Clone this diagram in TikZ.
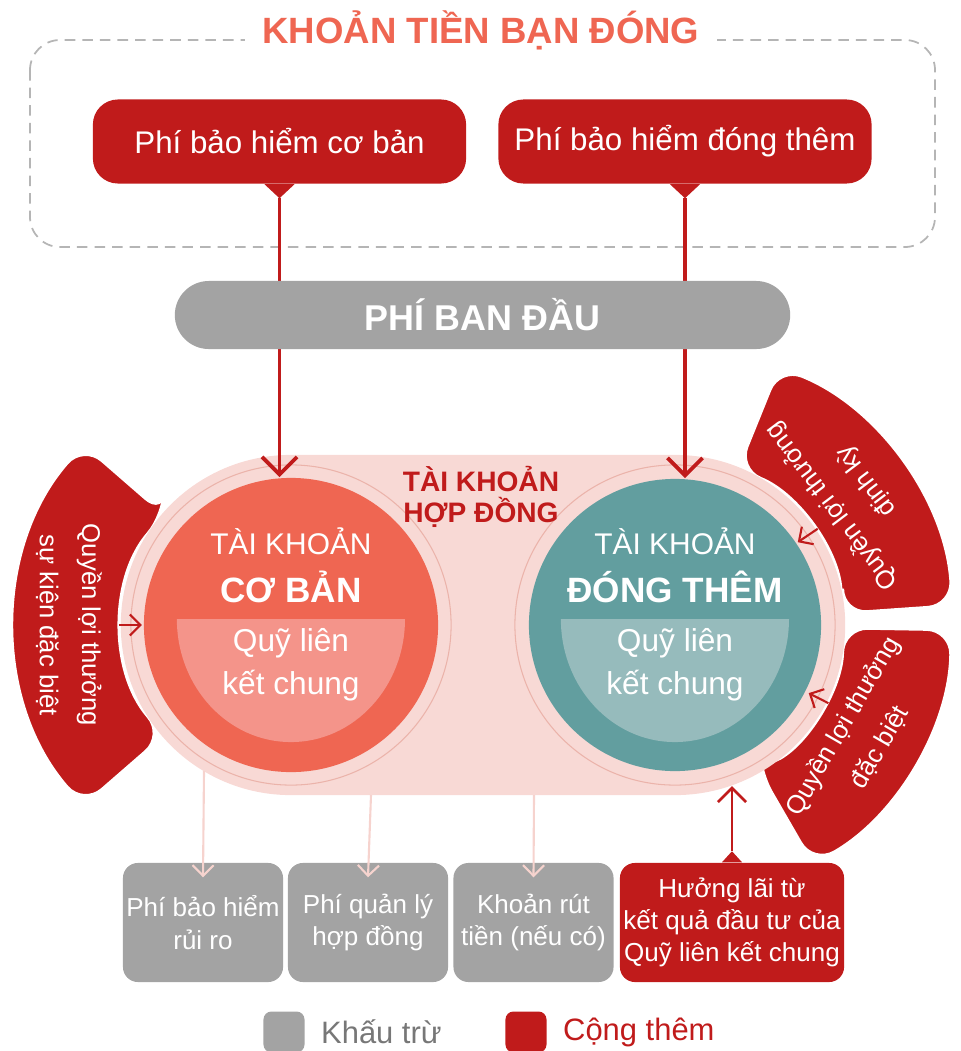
\documentclass[tikz,border=0pt]{standalone}
\usepackage{fontspec}
\setmainfont{Liberation Sans}
\usetikzlibrary{arrows.meta,calc,positioning}

\definecolor{ddred}{HTML}{C01B1B}
\definecolor{coral}{HTML}{EF6652}
\definecolor{corall}{HTML}{F4948A}
\definecolor{tealacc}{HTML}{629E9F}
\definecolor{teall}{HTML}{96BBBC}
\definecolor{pillpink}{HTML}{F8D9D5}
\definecolor{greybox}{HTML}{A3A3A3}
\definecolor{legendtxt}{HTML}{777777}
\definecolor{dashgrey}{HTML}{B5B5B5}
\definecolor{ringline}{HTML}{EBB3AA}
\definecolor{downpink}{HTML}{F6D3CE}

\tikzset{
  redbox/.style={fill=ddred, text=white, rounded corners=0.25cm,
    minimum width=3.73cm, minimum height=0.84cm, inner sep=0pt,
    font=\fontsize{8.9}{10}\selectfont},
  petal/.style={fill=ddred, draw=white, line width=0.8pt, rounded corners=7pt},
  petaltext/.style={text=white, align=center, font=\fontsize{7.3}{12}\selectfont},
  smallbox/.style={fill=greybox, text=white, rounded corners=0.15cm,
    minimum width=1.6cm, minimum height=1.19cm, inner sep=0pt, align=center,
    font=\fontsize{7.4}{9.2}\selectfont},
  bigarrow/.style={ddred, line width=1.1pt, -{Straight Barb[length=5pt, width=10pt]}},
  pinkarrow/.style={downpink, line width=0.6pt, -{Straight Barb[length=3pt, width=6pt]}},
  petalarrow/.style={ddred, line width=0.6pt, -{Straight Barb[length=3pt, width=6pt]}},
  uparrow/.style={ddred, line width=0.8pt, -{Straight Barb[length=4pt, width=8pt]}},
  circtext/.style={text=white, font=\fontsize{8.5}{10}\selectfont},
  circbold/.style={text=white, font=\bfseries\fontsize{10}{11}\selectfont},
  fundtext/.style={text=white, align=center, font=\fontsize{9}{12.2}\selectfont},
  legendsq/.style={rounded corners=0.08cm, minimum size=0.41cm, inner sep=0pt}
}

\begin{document}
\begin{tikzpicture}[x=0.01cm, y=-0.01cm]
\useasboundingbox (0,0) rectangle (960,1051);

% khoan tien ban dong
\draw[dashgrey, line width=0.5pt, dash pattern=on 3pt off 2pt, rounded corners=0.3cm] (30,40) rectangle (935,247);
\node[fill=white, text=coral, inner xsep=5pt, font=\bfseries\fontsize{10.4}{12}\selectfont] (ttl) at (481,30) {KHOẢN TIỀN BẠN ĐÓNG};

\node[redbox] (pbcb) at (279.5,141.5) {Phí bảo hiểm cơ bản};
\node[redbox] (pbdt) at (685,141.5) {Phí bảo hiểm đóng thêm};
\coordinate (cbtail) at ([yshift=-0.14cm]pbcb.south);
\coordinate (dttail) at ([yshift=-0.14cm]pbdt.south);
\fill[ddred] ([xshift=-0.15cm]pbcb.south) -- (cbtail) -- ([xshift=0.15cm]pbcb.south) -- cycle;
\fill[ddred] ([xshift=-0.15cm]pbdt.south) -- (dttail) -- ([xshift=0.15cm]pbdt.south) -- cycle;

% tai khoan hop dong
\coordinate (cbc) at (291,625);
\coordinate (tbc) at (675,625);

\fill[petal] ($(cbc)+(139:1.68cm)$) -- ($(cbc)+(139:2.75cm)$)
  arc[start angle=139, end angle=221, radius=2.75cm] -- ($(cbc)+(221:1.68cm)$)
  arc[start angle=221, end angle=139, radius=1.68cm] -- cycle;
\fill[petal] ($(tbc)+(4:1.68cm)$) -- ($(tbc)+(4:2.78cm)$)
  arc[start angle=4, end angle=68, radius=2.78cm] -- ($(tbc)+(68:1.68cm)$)
  arc[start angle=68, end angle=4, radius=1.68cm] -- cycle;
\fill[petal] ($(tbc)+(-60:1.68cm)$) -- ($(tbc)+(-60:2.76cm)$)
  arc[start angle=-60, end angle=-1, radius=2.76cm] -- ($(tbc)+(-1:1.68cm)$)
  arc[start angle=-1, end angle=-60, radius=1.68cm] -- cycle;

\node[fill=pillpink, rounded corners=1.7cm, minimum width=7.24cm, minimum height=3.4cm] (hd) at (483,625) {};
\draw[ringline, line width=0.3pt] (cbc) circle[radius=1.6cm];
\draw[ringline, line width=0.3pt] (tbc) circle[radius=1.6cm];

\node[circle, fill=coral, minimum size=2.94cm, inner sep=0pt] (cb) at (cbc) {};
\node[circle, fill=tealacc, minimum size=2.92cm, inner sep=0pt] (tb) at (tbc) {};
\fill[corall] (405,619) arc[start angle=0, end angle=-180, x radius=1.14cm, y radius=1.23cm] -- cycle;
\fill[teall] (789,619) arc[start angle=0, end angle=-180, x radius=1.14cm, y radius=1.23cm] -- cycle;

\node[circtext] (cbt1) at (291,541) {TÀI KHOẢN};
\node[circbold] (cbt2) at (291,587) {CƠ BẢN};
\node[fundtext] (cbq) at (291,665) {Quỹ liên\\kết chung};
\node[circtext] (tbt1) at (675,541) {TÀI KHOẢN};
\node[circbold] (tbt2) at (675,587) {ĐÓNG THÊM};
\node[fundtext] (tbq) at (675,665) {Quỹ liên\\kết chung};
\node[text=ddred, align=center, font=\bfseries\fontsize{8}{8.8}\selectfont] (hdl) at (481,497) {TÀI KHOẢN\\HỢP ĐỒNG};

\node[petaltext, rotate=270] (qsk) at ($(cbc)+(180:2.22cm)$) {Quyền lợi thưởng\\sự kiện đặc biệt};
\node[petaltext, rotate=127] (qdk) at ($(tbc)+(37:2.18cm)$) {Quyền lợi thưởng\\định kỳ};
\node[petaltext, rotate=60] (qdb) at ($(tbc)+(-31:2.17cm)$) {Quyền lợi thưởng\\đặc biệt};

\coordinate (ska) at ($(cbc)+(180:1.72cm)$);
\coordinate (skb) at ($(cbc)+(180:1.49cm)$);
\coordinate (dka) at ($(tbc)+(34:1.72cm)$);
\coordinate (dkb) at ($(tbc)+(34:1.48cm)$);
\coordinate (dba) at ($(tbc)+(-27:1.72cm)$);
\coordinate (dbb) at ($(tbc)+(-27:1.5cm)$);
\draw[petalarrow] (ska) -- (skb);
\draw[petalarrow] (dka) -- (dkb);
\draw[petalarrow] (dba) -- (dbb);

% phi ban dau
\draw[bigarrow] (cbtail) -- (cbtail |- cb.north);
\draw[bigarrow] (dttail) -- (dttail |- tb.north);
\node[fill=greybox, rounded corners=0.34cm, minimum width=6.15cm, minimum height=0.68cm, text=white,
  font=\bfseries\fontsize{10.2}{11}\selectfont] (pbd) at (482.5,315) {PHÍ BAN ĐẦU};

% khau tru / cong them
\node[smallbox] (b1) at (203,922.5) {Phí bảo hiểm\\rủi ro};
\node[smallbox] (b2) at (368,922.5) {Phí quản lý\\hợp đồng};
\node[smallbox] (b3) at (533.5,922.5) {Khoản rút\\tiền (nếu có)};
\node[smallbox, fill=ddred, minimum width=2.24cm] (b4) at (732,922.5) {Hưởng lãi từ\\kết quả đầu tư của\\Quỹ liên kết chung};

\coordinate (d1) at (204,771);
\coordinate (d2) at (371,795);
\coordinate (d3) at (534,795);
\draw[pinkarrow] (d1) -- ([yshift=-0.15cm]b1.north);
\draw[pinkarrow] (d2) -- ([yshift=-0.15cm]b2.north);
\draw[pinkarrow] (d3) -- ([yshift=-0.15cm]b3.north);

\coordinate (u4) at (732,786);
\fill[ddred] ([xshift=-0.1cm]b4.north) -- ([yshift=0.11cm]b4.north) -- ([xshift=0.1cm]b4.north) -- cycle;
\draw[uparrow] ([yshift=0.11cm]b4.north) -- (u4);

% legend
\node[legendsq, fill=greybox] (lgk) at (284,1032) {};
\node[right=1pt of lgk, text=legendtxt, font=\fontsize{8.8}{10}\selectfont] (lgkt) {Khấu trừ};
\node[legendsq, fill=ddred] (lgc) at (526,1032) {};
\node[right=1pt of lgc, text=ddred, font=\fontsize{8.8}{10}\selectfont] (lgct) {Cộng thêm};
\end{tikzpicture}
\end{document}
